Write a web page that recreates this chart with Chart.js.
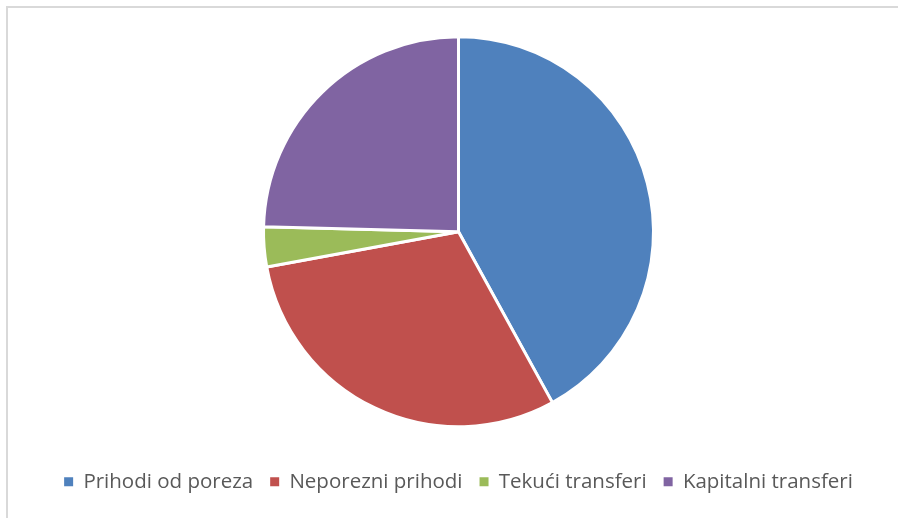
<!DOCTYPE html>
<html>
<head>
<meta charset="utf-8">
<script src="https://cdn.jsdelivr.net/npm/chart.js@4"></script>
<style>
	html, body { margin: 0; padding: 0; background: #fff; }
	.wrap { position: relative; width: 898px; height: 518px; overflow: hidden; }
	.frame { position: absolute; left: 6px; top: 6px; width: 910px; height: 530px; border: 2px solid #d9d9d9; box-sizing: border-box; }
	canvas { position: absolute; left: 0; top: 0; }
</style>
</head>
<body>
<div class="wrap">
	<div class="frame"></div>
	<canvas id="chart" width="898" height="518"></canvas>
</div>
<script>
	// Budget revenue shares (percent).
	const categories = [ 'Prihodi od poreza', 'Neporezni prihodi', 'Tekući transferi', 'Kapitalni transferi' ];
	const shares = [ 42.0, 30.1, 3.3, 24.6 ];
	const colors = [ '#4F81BD', '#C0504D', '#9BBB59', '#8064A2' ];

	const defaultLabels = Chart.controllers.pie.overrides.plugins.legend.labels.generateLabels;

	new Chart( document.getElementById( 'chart' ), {
		type: 'pie',
		data: {
			labels: categories,
			datasets: [ {
				data: shares,
				backgroundColor: colors,
				borderColor: '#ffffff',
				borderWidth: 3,
				radius: 195,
			} ],
		},
		options: {
			responsive: false,
			animation: false,
			layout: { padding: { top: 9, bottom: 16, left: 19, right: 0 } },
			plugins: {
				tooltip: { enabled: false },
				legend: {
					position: 'bottom',
					labels: {
						boxWidth: 9,
						boxHeight: 9,
						padding: 17,
						color: '#595959',
						font: { family: 'Open Sans', size: 20.5 },
						// solid squares, no white outline
						generateLabels: ( chart ) => defaultLabels( chart ).map( ( l ) => ( { ...l, lineWidth: 0 } ) ),
					},
				},
			},
		},
	} );
</script>
</body>
</html>
